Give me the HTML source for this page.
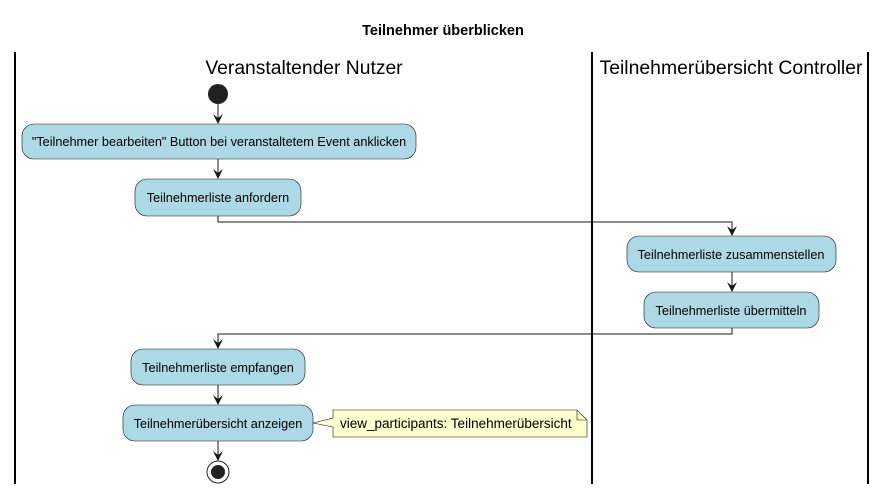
<!DOCTYPE html>
<html><head><meta charset="utf-8"><style>body{margin:0;background:#fff}</style></head><body>
<svg width="887" height="494" xmlns="http://www.w3.org/2000/svg" font-family="'Liberation Sans','DejaVu Sans',sans-serif">
<text x="443" y="35" text-anchor="middle" font-size="14.5" font-weight="bold">Teilnehmer überblicken</text>
<g stroke="#000" stroke-width="2">
<line x1="15" y1="52" x2="15" y2="484"/><line x1="592" y1="52" x2="592" y2="484"/><line x1="868" y1="52" x2="868" y2="484"/>
</g>
<text x="304" y="74" text-anchor="middle" font-size="19.3">Veranstaltender Nutzer</text>
<text x="731" y="74" text-anchor="middle" font-size="19.4">Teilnehmerübersicht Controller</text>
<circle cx="218" cy="94" r="10" fill="#222"/>
<g stroke="#181818" fill="none" stroke-width="1">
<line x1="218" y1="104" x2="218" y2="122"/><line x1="218" y1="159" x2="218" y2="177"/>
<polyline points="218,216 218,222 732,222 732,234"/>
<line x1="732" y1="272" x2="732" y2="290"/>
<polyline points="732,328 732,334 218,334 218,347"/>
<line x1="218" y1="385" x2="218" y2="403"/><line x1="218" y1="441" x2="218" y2="459"/>
</g>
<g fill="#181818">
<polygon points="213,114 218,124 223,114 218,118"/><polygon points="213,169 218,179 223,169 218,173"/>
<polygon points="727,226 732,236 737,226 732,230"/><polygon points="727,282 732,292 737,282 732,286"/>
<polygon points="213,339 218,349 223,339 218,343"/><polygon points="213,395 218,405 223,395 218,399"/>
<polygon points="213,451 218,461 223,451 218,455"/>
</g>
<g fill="#add8e6" stroke="#181818" stroke-width="0.6">
<rect x="22" y="124" width="394" height="35" rx="12"/>
<rect x="135" y="179" width="166" height="37" rx="12"/>
<rect x="627" y="236" width="209" height="36" rx="12"/>
<rect x="644" y="292" width="175" height="36" rx="12"/>
<rect x="131" y="349" width="174" height="36" rx="12"/>
<rect x="123" y="405" width="190" height="36" rx="12"/>
</g>
<g font-size="12.7" text-anchor="middle" fill="#000">
<text x="219" y="146">"Teilnehmer bearbeiten" Button bei veranstaltetem Event anklicken</text>
<text x="218" y="202">Teilnehmerliste anfordern</text>
<text x="731" y="259">Teilnehmerliste zusammenstellen</text>
<text x="731" y="315">Teilnehmerliste übermitteln</text>
<text x="218" y="372">Teilnehmerliste empfangen</text>
<text x="218" y="428">Teilnehmerübersicht anzeigen</text>
</g>
<path d="M333,410 L577,410 L587,420 L587,437 L333,437 L333,427 L313,423 L333,418 Z" fill="#fefece" stroke="#181818" stroke-width="0.6"/>
<path d="M577,410 L577,420 L587,420" fill="none" stroke="#181818" stroke-width="0.6"/>
<text x="340" y="428" font-size="13.5">view_participants: Teilnehmerübersicht</text>
<circle cx="218" cy="472" r="11" fill="#fff" stroke="#222" stroke-width="1"/>
<circle cx="218" cy="472" r="7" fill="#222"/>
</svg>
</body></html>
